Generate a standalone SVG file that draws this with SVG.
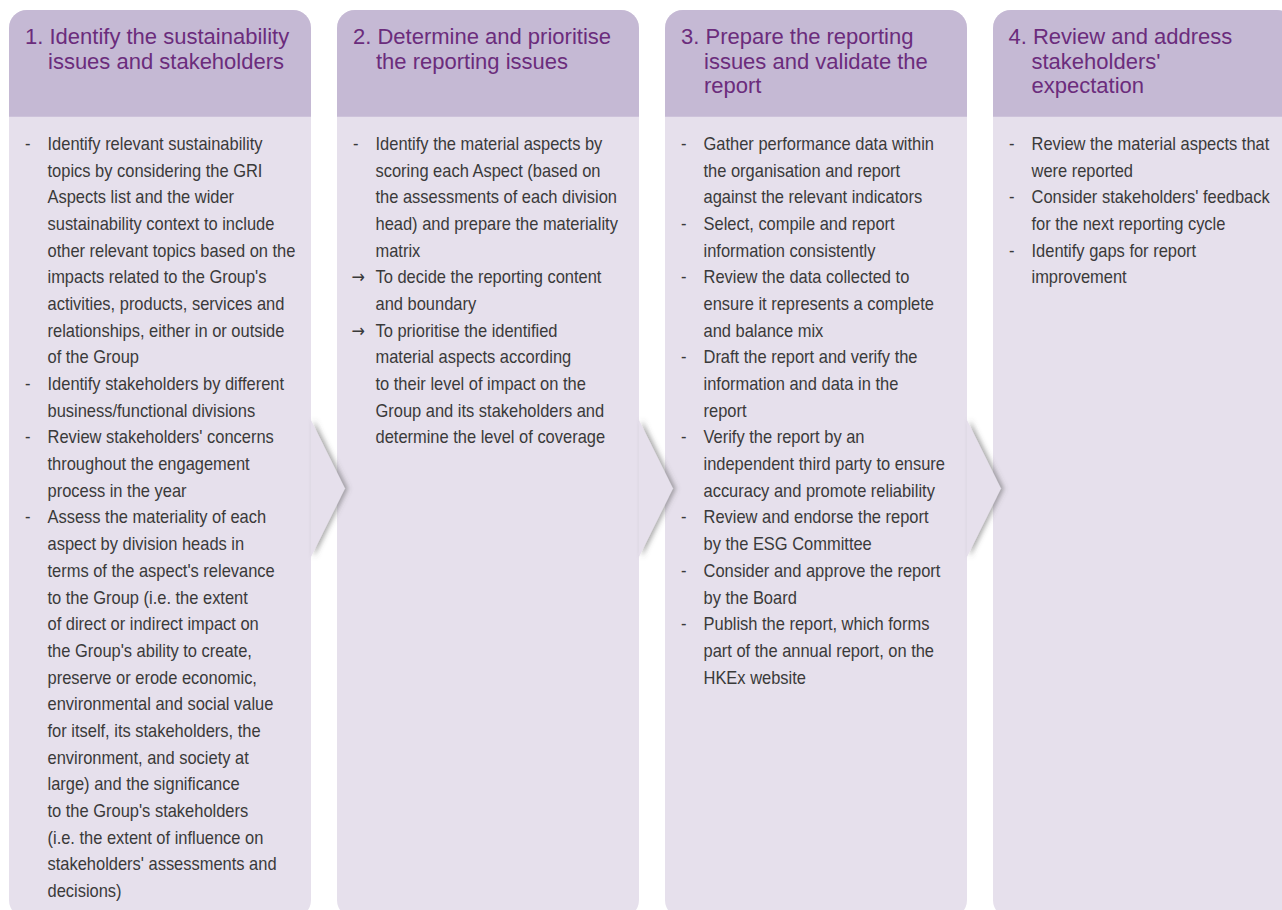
<svg xmlns="http://www.w3.org/2000/svg" width="1282" height="910" viewBox="0 0 1282 910">
<defs>
<style>
.body{fill:#e6e0ec}
.head{fill:#c5b9d4}
.ht{font-family:"Liberation Sans",Arial,sans-serif;font-size:22px;fill:#6b2c7c}
.bt{font-family:"Liberation Sans",Arial,sans-serif;font-size:18.5px;fill:#3a3a3a}
.ar{font-family:"DejaVu Sans",sans-serif;font-size:18px}
.chev{fill:#e6e0ec;filter:url(#sh)}
</style>
<filter id="sh" x="-50%" y="-20%" width="200%" height="140%">
<feDropShadow dx="3" dy="0" stdDeviation="2.5" flood-color="#555" flood-opacity="0.5"/>
</filter>
</defs>

<g id="col1">
<rect class="body" x="9" y="10" width="302" height="908" rx="18"/>
<path class="head" d="M9,116.7 V28 A18,18 0 0 1 27,10 H293 A18,18 0 0 1 311,28 V116.7 Z"/>
<text class="ht"><tspan x="25" y="44">1. Identify the sustainability</tspan><tspan x="48" y="68.7">issues and stakeholders</tspan></text>
<g transform="translate(25,0) scale(0.89,1)">
<text class="bt">
<tspan x="0" y="150">-</tspan><tspan x="25.3" y="150">Identify relevant sustainability</tspan>
<tspan x="25.3" y="176.7">topics by considering the GRI</tspan>
<tspan x="25.3" y="203.4">Aspects list and the wider</tspan>
<tspan x="25.3" y="230">sustainability context to include</tspan>
<tspan x="25.3" y="256.7">other relevant topics based on the</tspan>
<tspan x="25.3" y="283.4">impacts related to the Group's</tspan>
<tspan x="25.3" y="310.1">activities, products, services and</tspan>
<tspan x="25.3" y="336.8">relationships, either in or outside</tspan>
<tspan x="25.3" y="363.4">of the Group</tspan>
<tspan x="0" y="390.1">-</tspan><tspan x="25.3" y="390.1">Identify stakeholders by different</tspan>
<tspan x="25.3" y="416.8">business/functional divisions</tspan>
<tspan x="0" y="443.5">-</tspan><tspan x="25.3" y="443.5">Review stakeholders' concerns</tspan>
<tspan x="25.3" y="470.2">throughout the engagement</tspan>
<tspan x="25.3" y="496.8">process in the year</tspan>
<tspan x="0" y="523.5">-</tspan><tspan x="25.3" y="523.5">Assess the materiality of each</tspan>
<tspan x="25.3" y="550.2">aspect by division heads in</tspan>
<tspan x="25.3" y="576.9">terms of the aspect's relevance</tspan>
<tspan x="25.3" y="603.6">to the Group (i.e. the extent</tspan>
<tspan x="25.3" y="630.2">of direct or indirect impact on</tspan>
<tspan x="25.3" y="656.9">the Group's ability to create,</tspan>
<tspan x="25.3" y="683.6">preserve or erode economic,</tspan>
<tspan x="25.3" y="710.3">environmental and social value</tspan>
<tspan x="25.3" y="737">for itself, its stakeholders, the</tspan>
<tspan x="25.3" y="763.6">environment, and society at</tspan>
<tspan x="25.3" y="790.3">large) and the significance</tspan>
<tspan x="25.3" y="817">to the Group's stakeholders</tspan>
<tspan x="25.3" y="843.7">(i.e. the extent of influence on</tspan>
<tspan x="25.3" y="870.4">stakeholders' assessments and</tspan>
<tspan x="25.3" y="897">decisions)</tspan>
</text>
</g>
</g>

<g id="col2">
<rect class="body" x="337" y="10" width="302" height="908" rx="18"/>
<path class="head" d="M337,116.7 V28 A18,18 0 0 1 355,10 H621 A18,18 0 0 1 639,28 V116.7 Z"/>
<text class="ht"><tspan x="353" y="44">2. Determine and prioritise</tspan><tspan x="376" y="68.7">the reporting issues</tspan></text>
<g transform="translate(353,0) scale(0.89,1)">
<text class="bt">
<tspan x="0" y="150">-</tspan><tspan x="25.3" y="150">Identify the material aspects by</tspan>
<tspan x="25.3" y="176.7">scoring each Aspect (based on</tspan>
<tspan x="25.3" y="203.4">the assessments of each division</tspan>
<tspan x="25.3" y="230">head) and prepare the materiality</tspan>
<tspan x="25.3" y="256.7">matrix</tspan>
<tspan class="ar" x="-1.8" y="283.4">→</tspan><tspan x="25.3" y="283.4">To decide the reporting content</tspan>
<tspan x="25.3" y="310.1">and boundary</tspan>
<tspan class="ar" x="-1.8" y="336.8">→</tspan><tspan x="25.3" y="336.8">To prioritise the identified</tspan>
<tspan x="25.3" y="363.4">material aspects according</tspan>
<tspan x="25.3" y="390.1">to their level of impact on the</tspan>
<tspan x="25.3" y="416.8">Group and its stakeholders and</tspan>
<tspan x="25.3" y="443.5">determine the level of coverage</tspan>
</text>
</g>
</g>

<g id="col3">
<rect class="body" x="665" y="10" width="302" height="908" rx="18"/>
<path class="head" d="M665,116.7 V28 A18,18 0 0 1 683,10 H949 A18,18 0 0 1 967,28 V116.7 Z"/>
<text class="ht"><tspan x="681" y="44">3. Prepare the reporting</tspan><tspan x="704" y="68.7">issues and validate the</tspan><tspan x="704" y="93.4">report</tspan></text>
<g transform="translate(681,0) scale(0.89,1)">
<text class="bt">
<tspan x="0" y="150">-</tspan><tspan x="25.3" y="150">Gather performance data within</tspan>
<tspan x="25.3" y="176.7">the organisation and report</tspan>
<tspan x="25.3" y="203.4">against the relevant indicators</tspan>
<tspan x="0" y="230">-</tspan><tspan x="25.3" y="230">Select, compile and report</tspan>
<tspan x="25.3" y="256.7">information consistently</tspan>
<tspan x="0" y="283.4">-</tspan><tspan x="25.3" y="283.4">Review the data collected to</tspan>
<tspan x="25.3" y="310.1">ensure it represents a complete</tspan>
<tspan x="25.3" y="336.8">and balance mix</tspan>
<tspan x="0" y="363.4">-</tspan><tspan x="25.3" y="363.4">Draft the report and verify the</tspan>
<tspan x="25.3" y="390.1">information and data in the</tspan>
<tspan x="25.3" y="416.8">report</tspan>
<tspan x="0" y="443.5">-</tspan><tspan x="25.3" y="443.5">Verify the report by an</tspan>
<tspan x="25.3" y="470.2">independent third party to ensure</tspan>
<tspan x="25.3" y="496.8">accuracy and promote reliability</tspan>
<tspan x="0" y="523.5">-</tspan><tspan x="25.3" y="523.5">Review and endorse the report</tspan>
<tspan x="25.3" y="550.2">by the ESG Committee</tspan>
<tspan x="0" y="576.9">-</tspan><tspan x="25.3" y="576.9">Consider and approve the report</tspan>
<tspan x="25.3" y="603.6">by the Board</tspan>
<tspan x="0" y="630.2">-</tspan><tspan x="25.3" y="630.2">Publish the report, which forms</tspan>
<tspan x="25.3" y="656.9">part of the annual report, on the</tspan>
<tspan x="25.3" y="683.6">HKEx website</tspan>
</text>
</g>
</g>

<g id="col4">
<rect class="body" x="993" y="10" width="302" height="908" rx="18"/>
<path class="head" d="M993,116.7 V28 A18,18 0 0 1 1011,10 H1277 A18,18 0 0 1 1295,28 V116.7 Z"/>
<text class="ht"><tspan x="1008.5" y="44">4. Review and address</tspan><tspan x="1031.5" y="68.7">stakeholders'</tspan><tspan x="1031.5" y="93.4">expectation</tspan></text>
<g transform="translate(1009,0) scale(0.89,1)">
<text class="bt">
<tspan x="0" y="150">-</tspan><tspan x="25.3" y="150">Review the material aspects that</tspan>
<tspan x="25.3" y="176.7">were reported</tspan>
<tspan x="0" y="203.4">-</tspan><tspan x="25.3" y="203.4">Consider stakeholders' feedback</tspan>
<tspan x="25.3" y="230">for the next reporting cycle</tspan>
<tspan x="0" y="256.7">-</tspan><tspan x="25.3" y="256.7">Identify gaps for report</tspan>
<tspan x="25.3" y="283.4">improvement</tspan>
</text>
</g>
</g>

<g id="connectors">
<polygon class="chev" points="311,420 345,488.5 311,557"/>
<polygon class="chev" points="639,420 673,488.5 639,557"/>
<polygon class="chev" points="967,420 1001,488.5 967,557"/>
</g>
</svg>
